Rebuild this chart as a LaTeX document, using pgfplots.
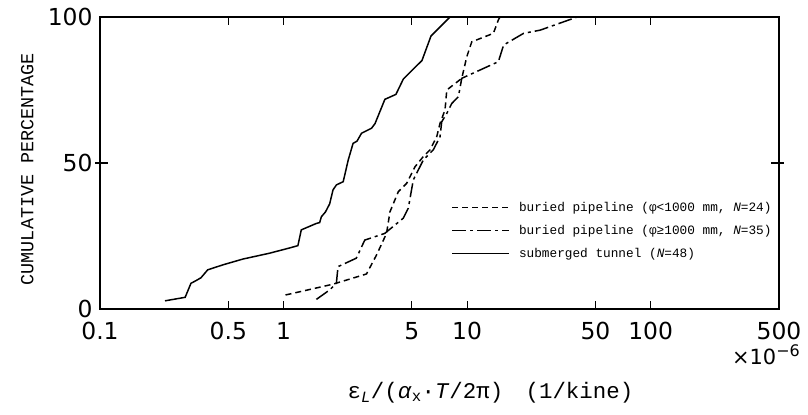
\documentclass[border=0pt]{standalone}
\usepackage{pgfplots}
\pgfplotsset{compat=1.18}
\usepackage{fontspec}
\setmainfont{DejaVu Sans}
\newfontfamily\monofont{Liberation Mono}

\pgfplotstableread{
x y
0.226 2.8
0.291 4.0
0.313 8.8
0.333 9.7
0.355 10.7
0.386 13.4
0.466 15.1
0.600 17.1
0.838 19.1
1.078 20.9
1.197 21.7
1.249 27.1
1.509 29.3
1.573 29.6
1.607 31.6
1.690 33.2
1.783 36.0
1.860 40.8
1.941 42.5
2.113 43.6
2.25 51.0
2.391 56.7
2.513 57.5
2.659 60.2
3.015 61.9
3.15 63.5
3.564 71.8
4.093 73.5
4.497 78.8
5.675 85.1
6.357 93.5
8.07 100
}\tunnel

\pgfplotstableread{
x y
1.025 4.8
1.86 8.5
2.83 12.0
3.21 18.5
3.64 25.9
3.80 33.3
4.22 40.2
4.68 43.0
5.2 48.7
5.77 52.2
6.28 54.5
6.83 59.0
7.12 63.6
7.58 68.2
7.75 75.0
9.35 79.0
9.96 86.4
10.6 91.5
13.9 94.4
14.8 99.0
15.1 100
}\pipesmall

\pgfplotstableread{
x y
1.51 3.3
1.78 6.5
1.94 8.8
1.98 14.5
2.49 17.4
2.77 23.6
3.56 25.9
4.49 31.1
4.78 34.5
5.09 44.2
5.31 46.5
5.77 51.0
6.54 54.5
7.12 59.0
7.27 64.1
7.75 67.0
8.25 70.4
8.96 72.7
9.35 79.0
14.8 84.7
15.8 90.4
20.3 94.4
25.0 95.5
39.8 100
}\pipelarge

\begin{document}
\begin{tikzpicture}
\useasboundingbox (-100bp,-106bp) rectangle (708bp,309bp);
\begin{axis}[
  scale only axis,
  width=679bp, height=292bp,
  xmode=log,
  xmin=0.1, xmax=500, ymin=0, ymax=100,
  axis line style={line width=1.4pt},
  xtick={0.1,0.5,1,5,10,50,100,500},
  xticklabels={0.1,0.5,1,5,10,50,100,500},
  ytick={0,50,100},
  yticklabels={0,50,100},
  extra y ticks={50},
  extra y tick labels={},
  extra y tick style={tick align=center, major tick length=10bp},
  minor xtick={},
  tick align=inside,
  major tick length=8bp,
  tick style={line width=1.2pt, black},
  xtick pos=both, ytick pos=both,
  ticklabel style={font=\fontsize{23.5}{23.5}\selectfont},
  xticklabel style={yshift=-10bp},
  yticklabel style={xshift=-4bp},
  xlabel={\monofont ε\textsubscript{\textit{L}}/(\textit{α}\textsubscript{x}·\textit{T}/2π)\quad(1/kine)},
  xlabel style={at={(axis description cs:0.575,-0.288)}, anchor=center, font=\fontsize{22.5}{22.5}\selectfont},
  ylabel={\monofont CUMULATIVE PERCENTAGE},
  ylabel style={at={(axis description cs:-0.107,0.479)}, anchor=center, font=\fontsize{18.5}{18.5}\selectfont},
  legend style={draw=none, fill=none, at={(rel axis cs:0.518,0.372)}, anchor=north west,
     font=\fontsize{12.8}{14}\monofont, row sep=8bp, inner sep=0pt,
     /tikz/every odd column/.append style={column sep=7bp}},
  legend cell align=left,
  legend image code/.code={\draw[#1, line width=1.1pt] (0bp,0bp) -- (57bp,0bp);},
]
\addplot[black, line width=1.5pt, dash pattern=on 6bp off 4bp] table {\pipesmall};
\addlegendentry{buried pipeline (φ<1000 mm, \textit{N}=24)}
\addplot[black, line width=1.5pt, dash pattern=on 14bp off 4bp on 3bp off 4bp] table {\pipelarge};
\addlegendentry{buried pipeline (φ≥1000 mm, \textit{N}=35)}
\addplot[black, line width=1.5pt] table {\tunnel};
\addlegendentry{submerged tunnel (\textit{N}=48)}
\end{axis}
\node[anchor=east, inner sep=0pt, font=\fontsize{21}{21}\selectfont] at (700bp,-46bp) {×10\raisebox{0.7ex}{\fontsize{16}{16}\selectfont −6}};
\end{tikzpicture}
\end{document}
